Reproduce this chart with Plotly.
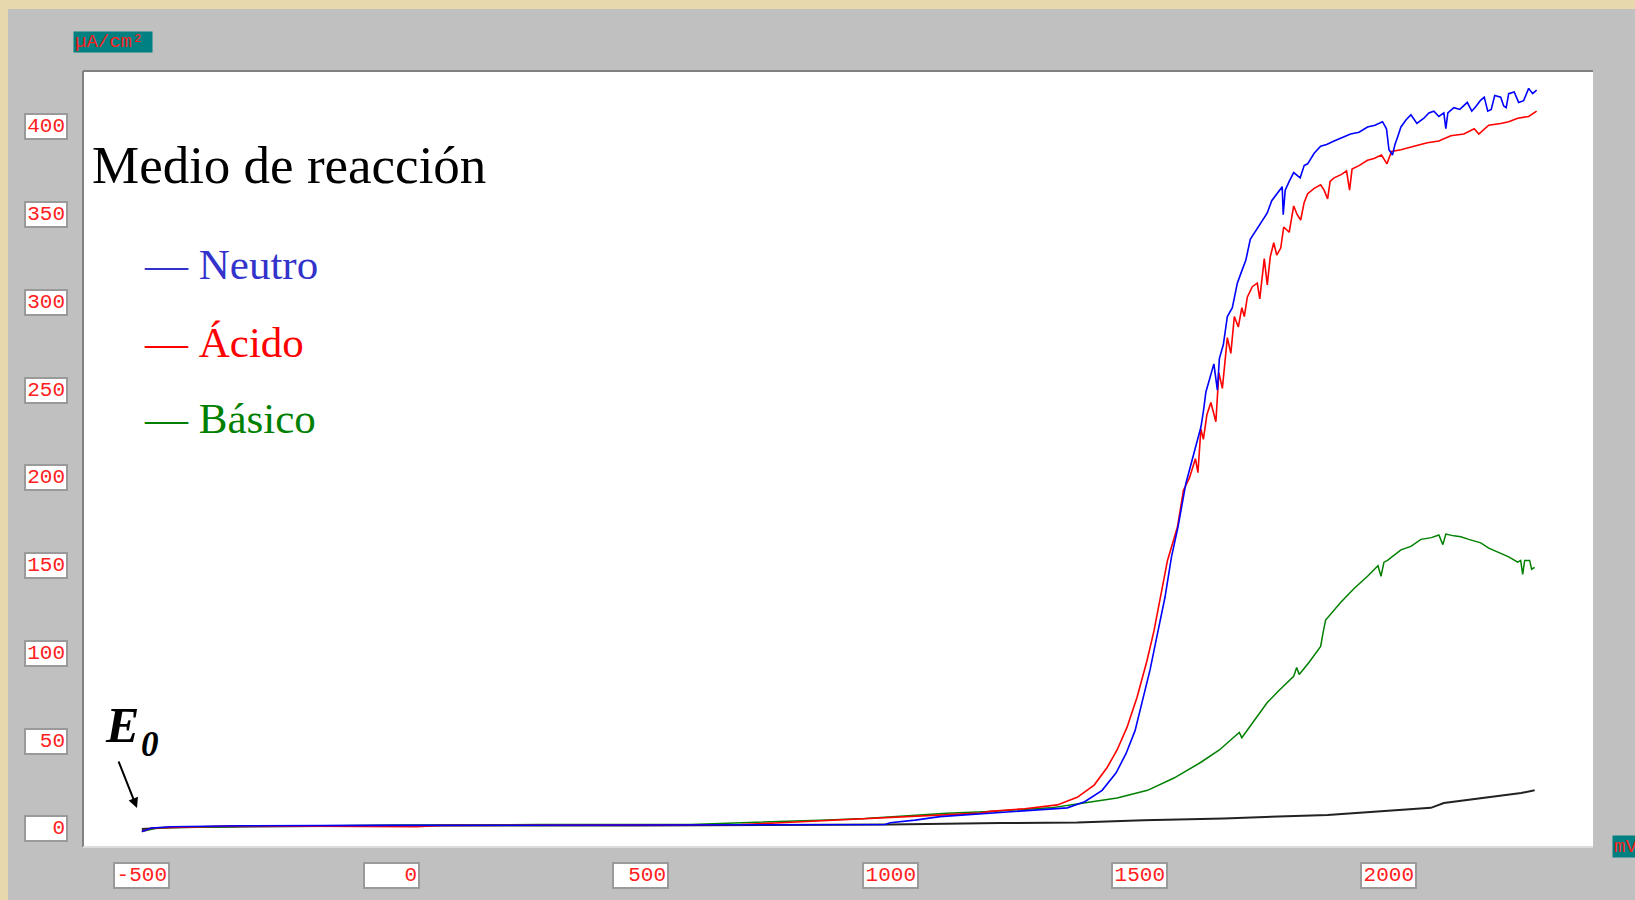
import plotly.graph_objects as go

# ---------------- data ----------------
neutro_x = [-500, -480, -440, -300, 0, 300, 600, 800, 990, 1000, 1050, 1100, 1150, 1200, 1260, 1300, 1355,
            1390, 1425, 1453, 1473, 1491, 1506, 1521, 1535, 1551, 1564, 1577, 1593, 1606, 1615, 1623, 1628,
            1633, 1640, 1649, 1656, 1660, 1668, 1676, 1686, 1696, 1705, 1713, 1722, 1733, 1745, 1756, 1765,
            1776, 1786, 1788, 1792, 1800, 1809, 1822, 1830, 1837, 1850, 1863, 1875, 1890, 1905, 1923, 1940,
            1957, 1972, 1987, 1995, 2000, 2007, 2012, 2017, 2024, 2034, 2044, 2056, 2070, 2080, 2090, 2100,
            2110, 2114, 2118, 2130, 2142, 2157, 2166, 2175, 2183, 2191, 2198, 2205, 2212, 2224, 2230, 2235,
            2240, 2251, 2260, 2270, 2280, 2288, 2296]
neutro_y = [-1.5, 0.5, 1.2, 1.8, 2.0, 2.2, 2.3, 2.3, 2.5, 3.5, 5, 7, 8, 9, 10, 11, 12,
            15.5, 22, 32, 43, 56, 73.5, 90.6, 110, 132, 155, 172, 197, 211, 222, 229, 238,
            249, 256, 265, 250, 268, 276, 292, 297, 311, 318, 324, 336, 341, 346, 351, 358,
            362, 366, 350, 364, 369, 374, 371, 378, 379, 385, 389, 390, 392, 394, 396, 397,
            400, 401, 403, 399, 387, 384, 390, 394, 400, 404, 407, 402, 405, 408, 409, 406,
            408, 399, 408, 411, 410, 414, 409, 412, 415, 417, 409, 410, 418, 417, 412, 411,
            419, 420, 414, 415, 422, 419, 421]

acido_x = [-500, -480, -300, 0, 50, 100, 400, 700, 780, 850, 950, 1050, 1120, 1180, 1200, 1270, 1335,
           1375, 1409, 1435, 1455, 1475, 1495, 1515, 1529, 1543, 1556, 1576, 1588, 1600, 1612, 1617,
           1623, 1628, 1635, 1643, 1653, 1659, 1666, 1676, 1683, 1690, 1698, 1705, 1710, 1716, 1726,
           1736, 1741, 1750, 1756, 1762, 1769, 1775, 1783, 1789, 1800, 1809, 1816, 1823, 1830, 1837,
           1850, 1863, 1870, 1877, 1882, 1890, 1905, 1915, 1921, 1926, 1940, 1957, 1970, 1985, 1996,
           2005, 2024, 2050, 2077, 2100, 2124, 2150, 2171, 2180, 2200, 2224, 2240, 2258, 2280, 2296]
acido_y = [-1.5, 0.5, 1.8, 1.5, 1.3, 2, 2.2, 2.5, 3.5, 4.5, 5.5, 7, 8, 9, 10, 11.5, 13.7,
           18, 25, 35, 45, 58, 75, 96, 113, 134, 153, 172, 193, 200, 211, 203,
           228, 222, 236, 243, 232, 260, 251, 280, 271, 292, 286, 297, 292, 303, 309,
           311, 302, 325, 310, 326, 334, 327, 331, 343, 340, 355, 350, 347, 357, 362,
           365, 367, 364, 359, 369, 371, 373, 375, 364, 376, 378, 381, 382, 384, 379,
           386, 387, 389, 391, 392, 395, 396, 399, 396, 401, 402, 403, 405, 406, 409]

basico_x = [-500, -470, -300, 0, 300, 600, 780, 860, 950, 1050, 1113, 1200, 1266, 1322, 1388, 1455,
            1516, 1569, 1623, 1660, 1690, 1700, 1705, 1730, 1756, 1780, 1809, 1815, 1820, 1840, 1863,
            1868, 1873, 1903, 1930, 1957, 1978, 1984, 1990, 1997, 2024, 2044, 2064, 2085, 2100, 2108,
            2114, 2130, 2144, 2160, 2184, 2200, 2224, 2240, 2258, 2264, 2268, 2272, 2282, 2286, 2292]
basico_y = [-1.5, 0.5, 1.5, 2.0, 2.5, 2.5, 4, 5, 6, 8, 9, 10, 11, 12, 14.8, 17.6,
            22, 29, 38, 45, 52.5, 55, 52, 62, 72, 79, 87, 92, 88, 95, 104,
            112, 119, 129, 137, 144, 150, 144, 152, 153, 159, 161, 165, 166, 167.5, 162,
            168, 167, 166.5, 165, 163, 160, 157, 155, 152, 153, 145, 153, 153, 148, 149]

blanco_x = [-500, -440, 0, 500, 1000, 1221, 1375, 1508, 1669, 1789, 1877, 1977, 2084, 2110, 2191, 2265, 2292]
blanco_y = [0, 1, 2, 2, 2.5, 3.4, 3.6, 5, 6, 7, 8, 10, 12, 14.8, 17.6, 20.5, 22]

x_ticks = [-500, 0, 500, 1000, 1500, 2000]
y_ticks = [0, 50, 100, 150, 200, 250, 300, 350, 400]

title_text = "Medio de reacción"
legend_names = ["Neutro", "Ácido", "Básico"]
legend_colors = ["#3333cc", "#ff0000", "#008000"]
y_unit = "µA/cm²"
x_unit = "mV"

# ---------------- figure ----------------
fig = go.Figure()
fig.add_trace(go.Scatter(x=blanco_x, y=blanco_y, mode="lines", line=dict(color="#222222", width=2),
                         showlegend=False))
fig.add_trace(go.Scatter(x=basico_x, y=basico_y, mode="lines", line=dict(color="#008000", width=1.5),
                         showlegend=False))
fig.add_trace(go.Scatter(x=acido_x, y=acido_y, mode="lines", line=dict(color="#ff0000", width=1.6),
                         showlegend=False))
fig.add_trace(go.Scatter(x=neutro_x, y=neutro_y, mode="lines", line=dict(color="#0000ff", width=1.6),
                         showlegend=False))

W, H = 1635, 900
L, R, T, B = 83, 42, 71, 53
pw, ph = W - L - R, H - T - B

def px_x(p):
    return (p - L) / pw

def px_y(p):
    return (H - B - p) / ph

annotations = []
box_font = dict(family="Liberation Mono, DejaVu Sans Mono, monospace", size=21, color="#ff2020")
for v in y_ticks:
    annotations.append(dict(x=px_x(46), xref="paper", y=v, yref="y", text=str(v), showarrow=False,
                            xanchor="center", yanchor="middle", align="right", width=38, height=21,
                            bgcolor="white", bordercolor="#9a9a9a", borderwidth=2, borderpad=1,
                            font=box_font))
for v in x_ticks:
    annotations.append(dict(x=v, xref="x", y=px_y(875), yref="paper", text=str(v), showarrow=False,
                            xanchor="center", yanchor="middle", align="right", width=51, height=21,
                            bgcolor="white", bordercolor="#9a9a9a", borderwidth=2, borderpad=1,
                            font=box_font))

# unit labels
annotations.append(dict(x=px_x(73), xref="paper", y=px_y(42), yref="paper", text=y_unit, showarrow=False,
                        xanchor="left", yanchor="middle", align="left", width=76, height=18,
                        bgcolor="#008080", borderpad=1,
                        font=dict(family="Liberation Mono, DejaVu Sans Mono, monospace", size=19, color="#ff2020")))
annotations.append(dict(x=px_x(1612), xref="paper", y=px_y(846), yref="paper", text=x_unit, showarrow=False,
                        xanchor="left", yanchor="middle", align="left", width=34, height=19,
                        bgcolor="#008080", borderpad=1,
                        font=dict(family="Liberation Mono, DejaVu Sans Mono, monospace", size=19, color="#ff2020")))

# title
serif = "Liberation Serif, Times New Roman, serif"
annotations.append(dict(x=px_x(90), xref="paper", y=px_y(165), yref="paper", text=title_text,
                        showarrow=False, xanchor="left", yanchor="middle",
                        font=dict(family=serif, size=53, color="black")))
# legend
leg_centers = [264.5, 342.5, 418.5]
for name, col, cy in zip(legend_names, legend_colors, leg_centers):
    annotations.append(dict(x=px_x(142), xref="paper", y=px_y(cy), yref="paper", text="— " + name,
                            showarrow=False, xanchor="left", yanchor="middle",
                            font=dict(family=serif, size=43, color=col)))

# E0 label
annotations.append(dict(x=px_x(103), xref="paper", y=px_y(725), yref="paper", text="<b><i>E</i></b>",
                        showarrow=False, xanchor="left", yanchor="middle",
                        font=dict(family=serif, size=50, color="black")))
annotations.append(dict(x=px_x(139), xref="paper", y=px_y(744), yref="paper", text="<b><i>0</i></b>",
                        showarrow=False, xanchor="left", yanchor="middle",
                        font=dict(family=serif, size=35, color="black")))
annotations.append(dict(x=px_x(137), xref="paper", y=px_y(808), yref="paper", text="",
                        showarrow=True, ax=-19, ay=-48, arrowhead=2, arrowsize=1, arrowwidth=2,
                        arrowcolor="black"))

shapes = [
    # parchment strips (left and top)
    dict(type="rect", xref="paper", yref="paper", x0=px_x(0), x1=px_x(8), y0=px_y(900), y1=px_y(0),
         fillcolor="#e8d8ae", line=dict(width=0), layer="below"),
    dict(type="rect", xref="paper", yref="paper", x0=px_x(0), x1=px_x(1635), y0=px_y(9), y1=px_y(0),
         fillcolor="#e8d8ae", line=dict(width=0), layer="below"),
    # inset border of plot area
    dict(type="line", xref="paper", yref="paper", x0=0, x1=1, y0=1, y1=1,
         line=dict(color="#808080", width=2)),
    dict(type="line", xref="paper", yref="paper", x0=0, x1=0, y0=0, y1=1,
         line=dict(color="#808080", width=2)),
    dict(type="line", xref="paper", yref="paper", x0=0, x1=1, y0=0, y1=0,
         line=dict(color="#dcdcdc", width=2)),
]

fig.update_layout(
    width=W, height=H,
    margin=dict(l=L, r=R, t=T, b=B),
    paper_bgcolor="#c0c0c0",
    plot_bgcolor="white",
    showlegend=False,
    annotations=annotations,
    shapes=shapes,
    xaxis=dict(range=[-618, 2409], showgrid=False, zeroline=False, showticklabels=False, ticks="",
               showline=False, fixedrange=True),
    yaxis=dict(range=[-10.3, 431.9], showgrid=False, zeroline=False, showticklabels=False, ticks="",
               showline=False, fixedrange=True),
)

fig.write_html("out.html", config={"displayModeBar": False},
               post_script="document.body.style.margin='0';document.body.style.overflow='hidden';")
